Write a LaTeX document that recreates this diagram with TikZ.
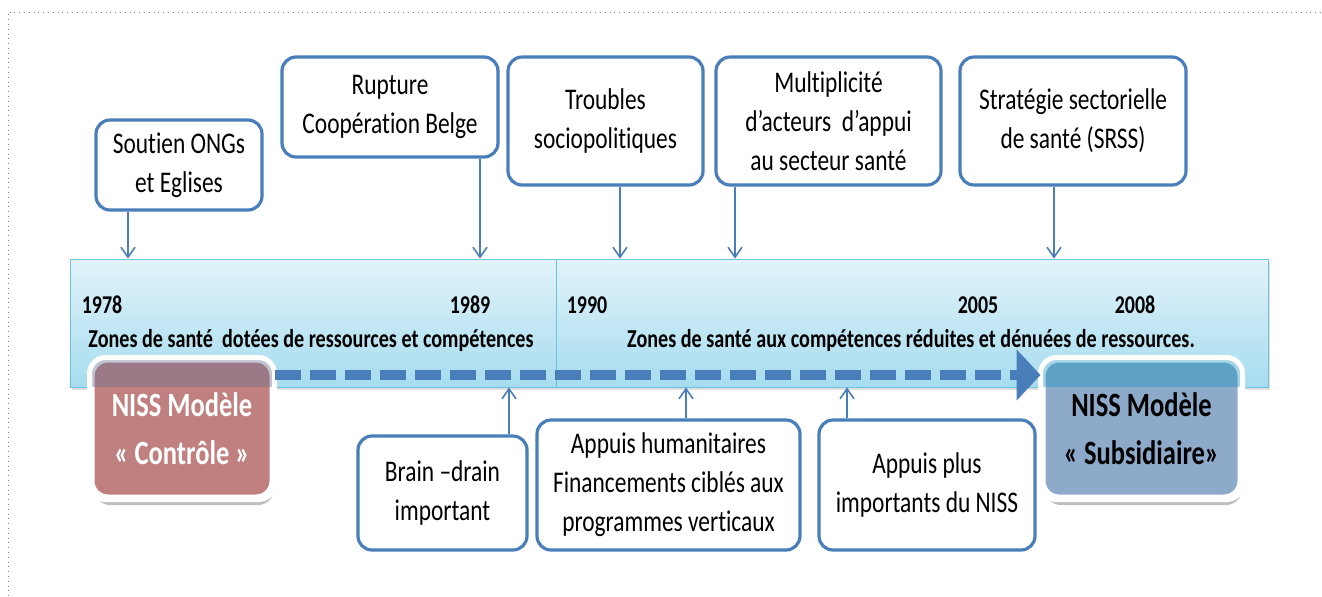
\documentclass[tikz,border=0pt]{standalone}
\usepackage{fontspec}
\setmainfont{Carlito}[FakeStretch=0.78, Ligatures=NoCommon]
\usetikzlibrary{arrows.meta,shadows}

\definecolor{boxblue}{HTML}{4A7EBB}
\definecolor{bandedge}{HTML}{6CC3DF}
\definecolor{bandtop}{HTML}{E2F3FA}
\definecolor{bandbot}{HTML}{A6DCEF}
\definecolor{ctrlred}{HTML}{C0807F}
\definecolor{ctrltint}{RGB}{102,112,145}
\definecolor{subsblue}{HTML}{8EAACB}
\definecolor{substint}{RGB}{25,152,195}

\begin{document}
\begin{tikzpicture}[x=0.5pt, y=-0.5pt,
  evbox/.style={draw=boxblue, line width=1.6pt, rounded corners=7pt, fill=white,
    align=center, inner sep=0pt, font=\fontsize{15}{19.5}\selectfont},
  tick/.style={boxblue, line width=0.8pt, -{Straight Barb[length=5pt,width=7pt]}},
  niss/.style={draw=white, line width=2.5pt, rounded corners=8pt, align=center,
    inner sep=0pt, minimum height=68.5pt, font=\bfseries\fontsize{17}{24}\selectfont,
    general shadow={fill=gray, opacity=0.5, shadow xshift=1pt, shadow yshift=-4pt}},
  year/.style={font=\bfseries\fontsize{12.8}{14}\selectfont},
  zone/.style={font=\bfseries\fontsize{12.9}{14}\selectfont}]
  \useasboundingbox (0,0) rectangle (1322,596);
  \draw[gray, dotted] (8,596) -- (8,12) -- (1322,12);

  % time band
  \node[draw=bandedge, top color=bandtop, bottom color=bandbot, inner sep=0pt,
    minimum width=599pt, minimum height=64pt,
    drop shadow={opacity=0.25, shadow xshift=1pt, shadow yshift=-1.5pt}] (band) at (669,323) {};
  \draw[bandedge] (556,0 |- band.north) -- (556,0 |- band.south);
  \foreach \nm/\x/\yr in {y1/102/1978, y2/470/1989, y3/587/1990, y4/978/2005, y5/1135/2008}
    \node[year] (\nm) at (\x,305) {\yr};
  \node[zone] (zone1) at (311,340) {Zones de santé\ \ dotées de ressources et compétences};
  \node[zone] (zone2) at (911,340) {Zones de santé aux compétences réduites et dénuées de ressources.};

  % events above
  \node[evbox, minimum width=83pt, minimum height=45pt] (soutien) at (179,165) {Soutien ONGs\\et Eglises};
  \node[evbox, minimum width=108pt, minimum height=50pt] (rupture) at (390,107) {Rupture\\Coopération Belge};
  \node[evbox, minimum width=97.5pt, minimum height=64pt] (troubles) at (605.5,121) {Troubles\\sociopolitiques};
  \node[evbox, minimum width=112.5pt, minimum height=64pt] (multi) at (828.5,121) {Multiplicité\\d’acteurs\ \ d’appui\\au secteur santé};
  \node[evbox, minimum width=113pt, minimum height=64pt] (strat) at (1073,121) {Stratégie sectorielle\\de santé (SRSS)};
  \foreach \nm/\ax in {soutien/128, rupture/480, troubles/620, multi/735, strat/1054}
    \draw[tick] (\nm.south -| \ax,0) -- (\ax,0 |- band.north);

  % models
  \node[niss, fill=ctrlred, text=white, minimum width=90pt] (ctrl) at (182,428.5) {};
  \node[niss, fill=subsblue, text=black, minimum width=98.5pt] (subs) at (1141.5,428.5) {};
  \foreach \nm/\tint in {ctrl/ctrltint, subs/substint} {
    \begin{scope}
      \clip[rounded corners=8pt] (\nm.north west) rectangle (\nm.south east);
      \fill[\tint, opacity=0.4] (band.north west) rectangle (band.south east);
    \end{scope}
    \draw[white, line width=2.5pt, rounded corners=8pt] (\nm.north west) rectangle (\nm.south east);
  }
  \node[align=center, text=white, font=\bfseries\fontsize{17}{24}\selectfont] at (ctrl) {NISS Modèle\\« Contrôle »};
  \node[align=center, text=black, font=\bfseries\fontsize{17}{24}\selectfont] at (subs) {NISS Modèle\\« Subsidiaire»};
  \draw[boxblue, line width=5pt, dash pattern=on 13pt off 4.5pt,
    -{Triangle[length=12pt,width=25pt]}] (ctrl.east |- 0,375) -- (subs.west |- 0,375);

  % events below
  \node[evbox, minimum width=84.5pt, minimum height=57pt] (brain) at (442.5,493) {Brain –drain\\important};
  \node[evbox, minimum width=131.5pt, minimum height=65pt] (huma) at (668.5,485) {Appuis humanitaires\\Financements ciblés aux\\programmes verticaux};
  \node[evbox, minimum width=108pt, minimum height=65pt] (plus) at (927,485) {Appuis plus\\importants du NISS};
  \foreach \nm/\ax in {brain/509, huma/686, plus/847}
    \draw[tick] (\nm.north -| \ax,0) -- (\ax,0 |- band.south);
\end{tikzpicture}
\end{document}
